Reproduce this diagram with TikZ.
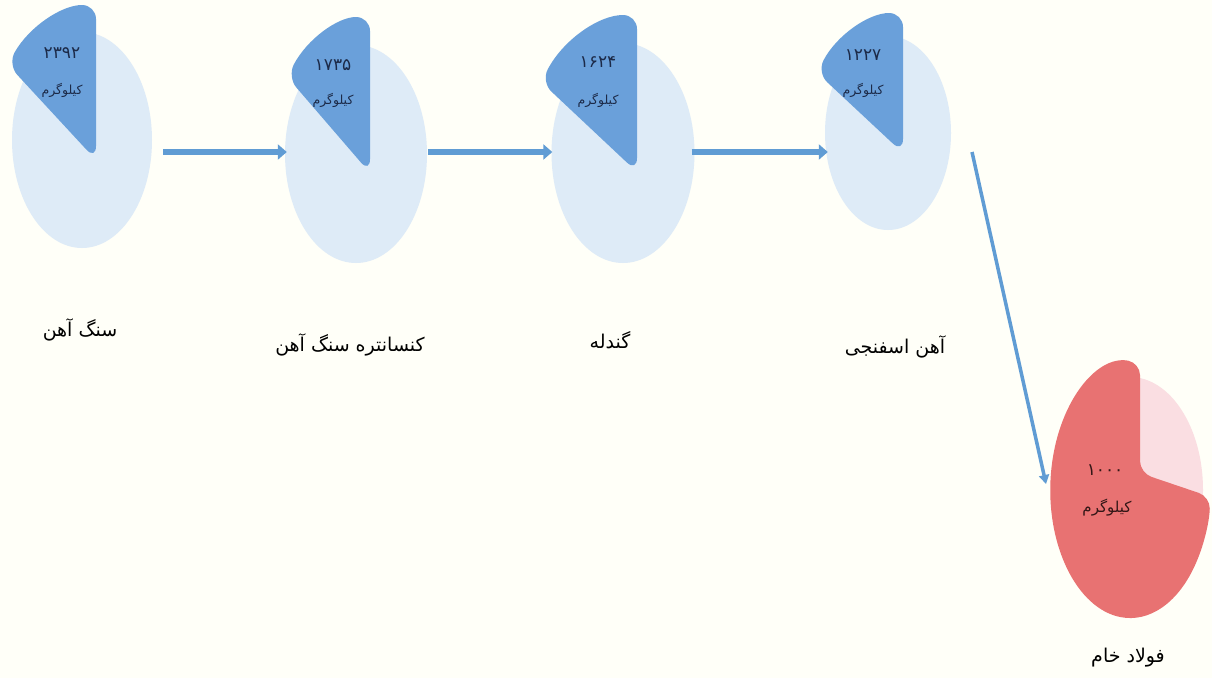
\documentclass[tikz,border=0pt]{standalone}
\usepackage{fontspec}
\usetikzlibrary{arrows.meta,shapes.geometric,calc}
\TeXXeTstate=1
\newfontfamily\arabicfont[Script=Arabic]{DejaVu Sans}
\definecolor{bgcol}{RGB}{255,255,248}
\definecolor{lightblue}{RGB}{222,235,247}
\definecolor{darkblue}{RGB}{106,160,218}
\definecolor{arrowblue}{RGB}{96,156,212}
\definecolor{lightpink}{RGB}{250,222,226}
\definecolor{piered}{RGB}{232,114,114}
\definecolor{numtext}{RGB}{28,42,72}
\definecolor{redtext}{RGB}{50,22,22}
\tikzset{
  lightpie/.style={ellipse, inner sep=0pt, fill=lightblue},
  wedge/.style={fill=darkblue, rounded corners=14pt},
  numlabel/.style={font=\arabicfont\fontsize{17}{19}\selectfont, text=numtext, inner sep=0pt},
  kilolabel/.style={font=\arabicfont\fontsize{12.5}{14}\selectfont, text=numtext, inner sep=0pt},
  steplabel/.style={font=\arabicfont\fontsize{19}{21}\selectfont, text=black, inner sep=0pt},
  flowarrow/.style={draw=arrowblue, line width=6pt, -{Triangle[length=9pt,width=15pt]}},
  diagarrow/.style={draw=arrowblue, line width=3.5pt, -{Triangle[length=9pt,width=10pt]}}
}
\begin{document}
\begin{tikzpicture}[x=1pt,y=-1pt]
\useasboundingbox (0,0) rectangle (1212,678);
\fill[bgcol] (0,0) rectangle (1212,678);

% light ellipses
\node[lightpie, minimum width=140pt, minimum height=216pt] (p1) at (82,140) {};
\node[lightpie, minimum width=142pt, minimum height=218pt] (p2) at (356,154) {};
\node[lightpie, minimum width=143pt, minimum height=220pt] (p3) at (623,153) {};
\node[lightpie, minimum width=126pt, minimum height=194pt] (p4) at (888,133) {};
\node[ellipse, inner sep=0pt, fill=lightpink, minimum width=146pt, minimum height=226pt] (p5) at (1130,490) {};

% dark wedges
\path[wedge] (96,160) -- (96,5) arc[start angle=90,end angle=142,x radius=112pt,y radius=155pt] -- cycle;
\path[wedge] (370,173) -- (370,17) arc[start angle=90,end angle=142,x radius=105pt,y radius=156pt] -- cycle;
\path[wedge] (637,172) -- (637,15) arc[start angle=90,end angle=145,x radius=117pt,y radius=157pt] -- cycle;
\path[wedge] (903,153) -- (903,13) arc[start angle=90,end angle=145,x radius=105pt,y radius=140pt] -- cycle;
\path[fill=piered, rounded corners=12pt] (1140,473) -- (1140,363) arc[start angle=83,end angle=357,x radius=80pt,y radius=128pt] -- cycle;

% wedge texts
\node[numlabel] (n1) at (62,53) {۲۳۹۲};
\node[kilolabel] (k1) at (62,90) {\beginR کیلوگرم\endR};
\node[numlabel] (n2) at (333,65) {۱۷۳۵};
\node[kilolabel] (k2) at (333,100) {\beginR کیلوگرم\endR};
\node[numlabel] (n3) at (598,62) {۱۶۲۴};
\node[kilolabel] (k3) at (598,100) {\beginR کیلوگرم\endR};
\node[numlabel] (n4) at (863,55) {۱۲۲۷};
\node[kilolabel] (k4) at (863,90) {\beginR کیلوگرم\endR};
\node[numlabel, text=redtext] (n5) at (1105,470) {۱۰۰۰};
\node[kilolabel, text=redtext, font=\arabicfont\fontsize{15}{17}\selectfont] (k5) at (1107,508) {\beginR کیلوگرم\endR};

% step labels
\node[steplabel] (l1) at (80,330) {\beginR سنگ آهن\endR};
\node[steplabel] (l2) at (350,345) {\beginR کنسانتره سنگ آهن\endR};
\node[steplabel] (l3) at (610,340) {\beginR گندله\endR};
\node[steplabel] (l4) at (895,347) {\beginR آهن اسفنجی\endR};
\node[steplabel] (l5) at (1128,658) {\beginR فولاد خام\endR};

% arrows
\draw[flowarrow, shorten <=11pt, shorten >=-2pt] (p1.east |- 0,152) -- (p2.west |- 0,152);
\draw[flowarrow, shorten <=1pt, shorten >=-1pt] (p2.east |- 0,152) -- (p3.west |- 0,152);
\draw[flowarrow, shorten <=-3pt, shorten >=-3pt] (p3.east |- 0,152) -- (p4.west |- 0,152);
\coordinate (d1) at (972,152);
\coordinate (d2) at (1046,484);
\draw[diagarrow] (d1) -- (d2);
\end{tikzpicture}
\end{document}
